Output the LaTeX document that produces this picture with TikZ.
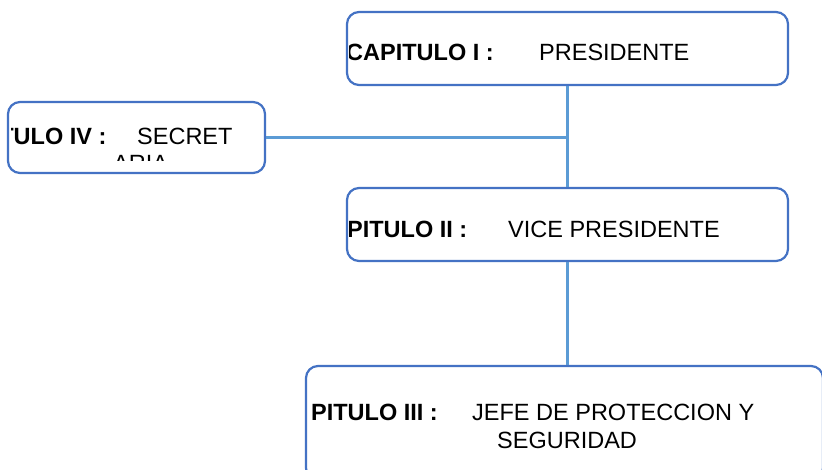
\documentclass[tikz,border=0pt]{standalone}
\usepackage{fontspec}
\setmainfont{Liberation Sans}
\definecolor{boxblue}{HTML}{4472C4}
\definecolor{lineblue}{HTML}{5B9BD5}
\begin{document}
\begin{tikzpicture}[x=1pt,y=-1pt,
  box/.style={draw=boxblue, line width=2.2pt, rounded corners=12pt, inner sep=0pt, fill=white},
  conn/.style={draw=lineblue, line width=2.2pt},
  lab/.style={anchor=base west, inner sep=0pt, font=\fontsize{23.5}{27}\selectfont\bfseries},
  txt/.style={anchor=base west, inner sep=0pt, font=\fontsize{23.5}{27}\selectfont}]
\useasboundingbox (0,0) rectangle (822,470);
\fill[white] (0,0) rectangle (822,470);
% boxes
\node[box, minimum width=441pt, minimum height=73pt] (p) at (567.5,48.5) {};
\node[box, minimum width=441pt, minimum height=73pt] (v) at (567.5,224.5) {};
\node[box, minimum width=257pt, minimum height=71pt] (s) at (136.5,137.5) {};
\node[box, minimum width=517pt, minimum height=114pt] (j) at (564.5,423) {};
% connectors
\draw[conn] (p.south) -- (v.north);
\draw[conn] (s.east) -- (s.east -| p.south);
\draw[conn] (v.south) -- (v.south |- j.north);
% texts
\begin{scope}
\clip (349,14) rectangle (786,83);
\node[lab] (p1) at (346,61) {CAPITULO I :};
\node[txt] (p2) at (539,61) {PRESIDENTE};
\end{scope}
\begin{scope}
\clip (349,191) rectangle (786,259);
\node[lab] (v1) at (313,238) {CAPITULO II :};
\node[txt] (v2) at (508,238) {VICE PRESIDENTE};
\end{scope}
\begin{scope}
\clip (11,104) rectangle (262,161);
\node[lab] (s1) at (-57,145) {CAPITULO IV :};
\node[txt] (s2) at (137,145) {SECRET};
\node[txt] (s3) at (113,172) {ARIA};
\end{scope}
\begin{scope}
\clip (311,368) rectangle (822,470);
\node[lab] (j1) at (277,420) {CAPITULO III :};
\node[txt] (j2) at (472,420) {JEFE DE PROTECCION Y};
\node[txt] (j3) at (497,448) {SEGURIDAD};
\end{scope}
\end{tikzpicture}
\end{document}
